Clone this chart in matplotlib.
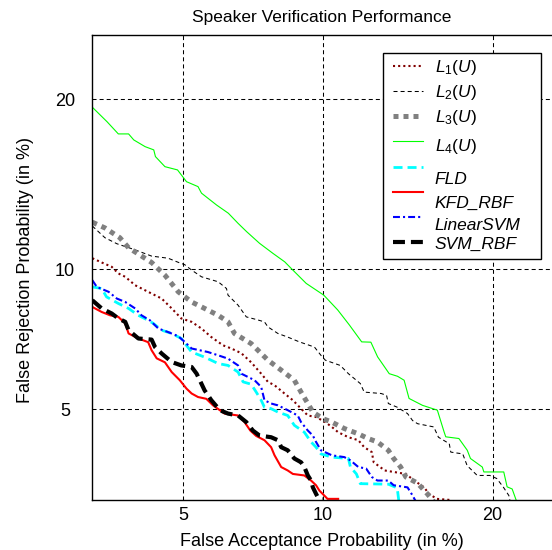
import numpy as np
import matplotlib
matplotlib.use('Agg')
import matplotlib.pyplot as plt
from matplotlib.patches import Rectangle

# ---------------- data (percent) ----------------
L1_FA = [3.0, 3.17, 3.36, 3.49, 3.63, 3.84, 4.13, 4.45, 4.7, 4.95, 5.23, 5.51, 5.8, 6.16, 6.43, 6.76, 7.1, 7.46, 7.71, 7.96, 8.35, 8.69, 9.03, 9.32, 9.68, 10.1, 10.4, 10.7, 11.2, 11.7, 12, 12.4, 12.5, 13.1, 13.6, 14.3, 14.8, 15.4, 15.7, 16.2, 17.1]
L1_FR = [10.5, 10.3, 10.1, 9.8, 9.65, 9.28, 9, 8.72, 8.32, 7.93, 7.8, 7.55, 7.24, 6.95, 6.84, 6.68, 6.38, 6.02, 5.77, 5.67, 5.43, 5.24, 5.01, 4.83, 4.79, 4.66, 4.54, 4.41, 4.29, 4.22, 4.06, 3.95, 3.73, 3.56, 3.53, 3.49, 3.36, 3.23, 3.11, 3.02, 3]

L2_FA = [3.0, 3.23, 3.46, 3.84, 4.21, 4.61, 4.88, 5.04, 5.23, 5.51, 6.01, 6.27, 6.32, 6.65, 6.93, 7.28, 7.58, 7.71, 8.09, 8.48, 8.96, 9.61, 9.9, 10.1, 10.8, 11.2, 11.8, 12, 12.9, 13.2, 13.3, 13.8, 14.4, 14.7, 15, 16, 16.3, 17, 17.1, 17.9, 18.2, 18.9, 19.8, 20.3, 20.8, 21.2, 21.3]
L2_FR = [12.1, 11.5, 11.2, 10.9, 10.6, 10.5, 10.3, 10.2, 9.95, 9.65, 9.43, 9.14, 8.86, 8.45, 7.99, 7.89, 7.8, 7.61, 7.37, 7.24, 7.07, 6.89, 6.61, 6.45, 6.28, 6.02, 5.72, 5.47, 5.43, 5.38, 5.15, 5.05, 4.88, 4.7, 4.62, 4.54, 4.29, 4.14, 3.95, 3.91, 3.66, 3.46, 3.46, 3.4, 3.23, 3.08, 2.97]

L3_FA = [3.0, 3.23, 3.52, 3.7, 3.91, 4.21, 4.53, 4.87, 5.23, 5.6, 6.01, 6.32, 6.53, 7.1, 7.71, 8.22, 8.75, 9.03, 9.32, 9.54, 9.98, 10.4, 11, 11.7, 12.2, 12.7, 13.3, 13.6, 14, 14.3, 15, 15.6, 16]
L3_FR = [12.3, 12, 11.5, 11, 10.7, 10.3, 9.72, 9, 8.58, 8.32, 8.05, 7.8, 7.37, 7.01, 6.45, 6.13, 5.82, 5.47, 5.15, 4.92, 4.75, 4.66, 4.5, 4.37, 4.26, 4.18, 3.99, 3.81, 3.63, 3.43, 3.31, 3.11, 2.97]

L4_FA = [3.0, 3.27, 3.49, 3.70, 3.81, 4.06, 4.26, 4.30, 4.53, 4.85, 5.09, 5.41, 5.51, 5.96, 6.33, 6.65, 6.94, 7.40, 7.90, 8.36, 8.69, 9.25, 10.03, 10.68, 11.25, 11.87, 12.35, 12.71, 13.35, 13.82, 14.20, 14.49, 15.30, 16.23, 16.66, 16.77, 17.64, 18.21, 18.43, 19.26, 19.37, 20.82, 21.07, 21.45, 21.83]
L4_FR = [19.44, 18.42, 17.59, 17.59, 17.19, 16.75, 16.54, 16.11, 15.48, 15.28, 14.57, 14.28, 13.90, 13.23, 12.78, 12.24, 11.81, 11.22, 10.73, 10.33, 9.95, 9.36, 8.86, 8.26, 7.68, 7.07, 7.06, 6.56, 6.02, 5.94, 5.82, 5.29, 5.10, 4.97, 4.42, 4.30, 4.26, 3.99, 3.81, 3.63, 3.53, 3.53, 3.24, 3.20, 2.95]

FLD_FA = [3.0, 3.17, 3.26, 3.49, 3.7, 3.91, 4.13, 4.25, 4.45, 4.7, 4.95, 5.13, 5.23, 5.6, 6.01, 6.32, 6.65, 6.82, 7.1, 7.28, 7.46, 7.58, 7.83, 8.09, 8.48, 8.75, 9.17, 9.46, 9.68, 9.9, 10.4, 11.2, 11.3, 11.6, 11.8, 13.3, 13.8, 13.9]
FLD_FR = [9.21, 9.14, 8.79, 8.52, 8.32, 8.05, 7.86, 7.74, 7.49, 7.37, 7.19, 6.88, 6.72, 6.55, 6.34, 6.28, 6.07, 5.77, 5.7, 5.47, 5.24, 5.05, 5.01, 4.92, 4.83, 4.58, 4.41, 4.18, 4.06, 3.91, 3.84, 3.81, 3.63, 3.49, 3.3, 3.29, 3.22, 2.97]

KFD_FA = [3.0, 3.17, 3.33, 3.49, 3.63, 3.7, 3.91, 4.13, 4.21, 4.33, 4.53, 4.7, 4.91, 5.09, 5.23, 5.41, 5.65, 5.85, 6.21, 6.65, 6.87, 7.07, 7.28, 7.58, 7.83, 7.96, 8.22, 8.48, 8.69, 9.17, 9.46, 9.68, 9.83, 10.1, 10.2, 10.7]
KFD_FR = [8.38, 8.18, 8.05, 7.99, 7.74, 7.37, 7.19, 7.06, 6.78, 6.51, 6.38, 6.07, 5.82, 5.57, 5.43, 5.33, 5.28, 5.1, 4.88, 4.83, 4.66, 4.45, 4.32, 4.22, 4.06, 3.88, 3.63, 3.56, 3.49, 3.46, 3.36, 3.27, 3.17, 3.06, 3.02, 3.02]

LSVM_FA = [3.0, 3.08, 3.3, 3.46, 3.63, 3.84, 3.98, 4.17, 4.37, 4.61, 4.87, 5.04, 5.23, 5.7, 6.01, 6.32, 6.65, 6.76, 7.22, 7.46, 7.58, 7.83, 8.09, 8.48, 8.89, 9.03, 9.32, 9.54, 9.68, 9.9, 10.4, 11, 11.3, 11.7, 12.1, 12.4, 12.7, 13.3, 13.6, 14.4, 14.7, 14.9]
LSVM_FR = [9.5, 9.21, 9, 8.72, 8.58, 8.32, 8.05, 7.86, 7.55, 7.42, 7.27, 7.07, 6.84, 6.72, 6.61, 6.5, 6.28, 6.02, 5.82, 5.62, 5.24, 5.15, 5.1, 4.97, 4.83, 4.66, 4.45, 4.33, 4.18, 3.99, 3.88, 3.84, 3.77, 3.63, 3.6, 3.43, 3.36, 3.36, 3.27, 3.23, 3.08, 2.97]

SVM_FA = [3.0, 3.17, 3.36, 3.49, 3.63, 3.7, 3.91, 4.21, 4.29, 4.45, 4.7, 4.95, 5.23, 5.37, 5.46, 5.6, 5.8, 6.06, 6.32, 6.65, 6.93, 7.16, 7.4, 7.83, 8.09, 8.22, 8.48, 8.75, 9.03, 9.17, 9.32, 9.46, 9.54, 9.68, 9.76, 9.98]
SVM_FR = [8.65, 8.32, 8.12, 7.93, 7.8, 7.49, 7.19, 7.15, 6.89, 6.67, 6.39, 6.28, 6.23, 6.02, 5.82, 5.52, 5.24, 4.97, 4.88, 4.83, 4.66, 4.45, 4.33, 4.29, 4.22, 4.06, 3.99, 3.81, 3.73, 3.63, 3.46, 3.36, 3.23, 3.11, 3.05, 3.02]

TICKS = [5, 10, 20]
TICK_LABELS = ['5', '10', '20']
LIMITS = (3, 25)
TITLE = 'Speaker Verification Performance'
XLABEL = 'False Acceptance Probability (in %)'
YLABEL = 'False Rejection Probability (in %)'

# ---------------- style ----------------
plt.rcParams['lines.scale_dashes'] = False
plt.rcParams['font.family'] = ['Liberation Sans', 'DejaVu Sans']
plt.rcParams['mathtext.fontset'] = 'custom'
plt.rcParams['mathtext.rm'] = 'Liberation Sans'
plt.rcParams['mathtext.it'] = 'Liberation Sans:italic'


def ppf(p):
    """Inverse standard normal CDF (Acklam's approximation)."""
    p = np.clip(np.asarray(p, float), 1e-12, 1 - 1e-12)
    a = [-3.969683028665376e+01, 2.209460984245205e+02, -2.759285104469687e+02,
         1.383577518672690e+02, -3.066479806614716e+01, 2.506628277459239e+00]
    b = [-5.447609879822406e+01, 1.615858368580409e+02, -1.556989798598866e+02,
         6.680131188771972e+01, -1.328068155288572e+01]
    c = [-7.784894002430293e-03, -3.223964580411365e-01, -2.400758277161838e+00,
         -2.549671348283685e+00, 4.374664141464968e+00, 2.938163982698783e+00]
    d = [7.784695709041462e-03, 3.224671290700398e-01, 2.445134137142996e+00,
         3.754408661907416e+00]
    plow = 0.02425
    q = p - 0.5
    r = q * q
    central = (((((a[0]*r+a[1])*r+a[2])*r+a[3])*r+a[4])*r+a[5])*q / \
              (((((b[0]*r+b[1])*r+b[2])*r+b[3])*r+b[4])*r+1)
    ql = np.sqrt(-2*np.log(p))
    low = (((((c[0]*ql+c[1])*ql+c[2])*ql+c[3])*ql+c[4])*ql+c[5]) / \
          ((((d[0]*ql+d[1])*ql+d[2])*ql+d[3])*ql+1)
    qh = np.sqrt(-2*np.log(1-p))
    high = -(((((c[0]*qh+c[1])*qh+c[2])*qh+c[3])*qh+c[4])*qh+c[5]) / \
           ((((d[0]*qh+d[1])*qh+d[2])*qh+d[3])*qh+1)
    return np.where(p < plow, low, np.where(p > 1 - plow, high, central))


def erf(x):
    x = np.asarray(x, float)
    s = np.sign(x)
    ax_ = np.abs(x)
    t = 1/(1+0.3275911*ax_)
    y = 1 - (((((1.061405429*t - 1.453152027)*t) + 1.421413741)*t
              - 0.284496736)*t + 0.254829592)*t*np.exp(-ax_*ax_)
    return s*y


def cdf(z):
    return 0.5*(1+erf(np.asarray(z, float)/np.sqrt(2)))


def fwd(v):
    return ppf(np.asarray(v, float)/100)


def inv(z):
    return 100*cdf(z)


fig = plt.figure(figsize=(5.52, 5.5), dpi=100)
fig.patch.set_facecolor('white')
ax = fig.add_axes([92.3/552, 50/550, (557-92.3)/552, (500-35)/550])
ax.set_xscale('function', functions=(fwd, inv))
ax.set_yscale('function', functions=(fwd, inv))

series = [
    (L1_FA, L1_FR, r'$\mathit{L_1(U)}$', dict(color='#800000', lw=1.5, ls=(0, (1.5, 2.2)))),
    (L2_FA, L2_FR, r'$\mathit{L_2(U)}$', dict(color='black', lw=0.75, ls=(0, (2.9, 2.2)))),
    (L3_FA, L3_FR, r'$\mathit{L_3(U)}$', dict(color='#808080', lw=3.6, ls=(0, (3.6, 3.6)))),
    (L4_FA, L4_FR, r'$\mathit{L_4(U)}$', dict(color='#00FF00', lw=0.8, ls='-')),
    (FLD_FA, FLD_FR, 'FLD', dict(color='#00FFFF', lw=2, ls=(0, (6.5, 3.6)))),
    (KFD_FA, KFD_FR, 'KFD_RBF', dict(color='#FF0000', lw=1.5, ls='-')),
    (LSVM_FA, LSVM_FR, 'LinearSVM', dict(color='#0000FF', lw=1.5, ls=(0, (5, 2.2, 1.5, 2.2)))),
    (SVM_FA, SVM_FR, 'SVM_RBF', dict(color='black', lw=3, ls=(0, (8.6, 4.3)))),
]
for fa, fr, lab, st in series:
    ax.plot(fa, fr, label=lab, dash_capstyle='butt', **st)

ax.set_xlim(*LIMITS)
ax.set_ylim(*LIMITS)
ax.set_xticks(TICKS)
ax.set_xticklabels(TICK_LABELS)
ax.set_yticks(TICKS)
ax.set_yticklabels(TICK_LABELS)
ax.minorticks_off()
ax.grid(True, color='black', lw=0.75, ls=(0, (2.9, 2.2)))
ax.tick_params(length=0, labelsize=13)
ax.tick_params(axis='x', pad=5)
ax.tick_params(axis='y', pad=19.6)
for t in ax.get_yticklabels():
    t.set_ha('center')
for s in ax.spines.values():
    s.set_linewidth(1.0)

fig.text(322/552, 1-21.8/550, TITLE, ha='center', va='baseline', fontsize=12.5)
fig.text(322/552, 1-546/550, XLABEL, ha='center', va='baseline', fontsize=13)
fig.text(26/552, 1-270/550, YLABEL, ha='center', va='center', rotation=90, fontsize=13)

frame = Rectangle((383/552, 1-259/550), 158/552, 206/550, transform=fig.transFigure,
                  facecolor='white', edgecolor='black', lw=1.0, zorder=4.5, clip_on=False)
ax.add_artist(frame)
leg = ax.legend(loc='upper left', bbox_to_anchor=(392.7/552, 1-56.8/550),
                bbox_transform=fig.transFigure, frameon=False,
                borderaxespad=0, borderpad=0,
                prop={'style': 'italic', 'size': 12.5}, handlelength=1.73, handleheight=1.855,
                labelspacing=0.0, handletextpad=0.69)
# MATLAB-like drift of the legend texts relative to their line samples (pixels)
shifts = [-2.5, -3, -3, 0.5, 8.5, 6.5, 3.5, -2.5]
for t, dy in zip(leg.get_texts(), shifts):
    t.set_y(-dy)

fig.savefig('out.png', dpi=100)
